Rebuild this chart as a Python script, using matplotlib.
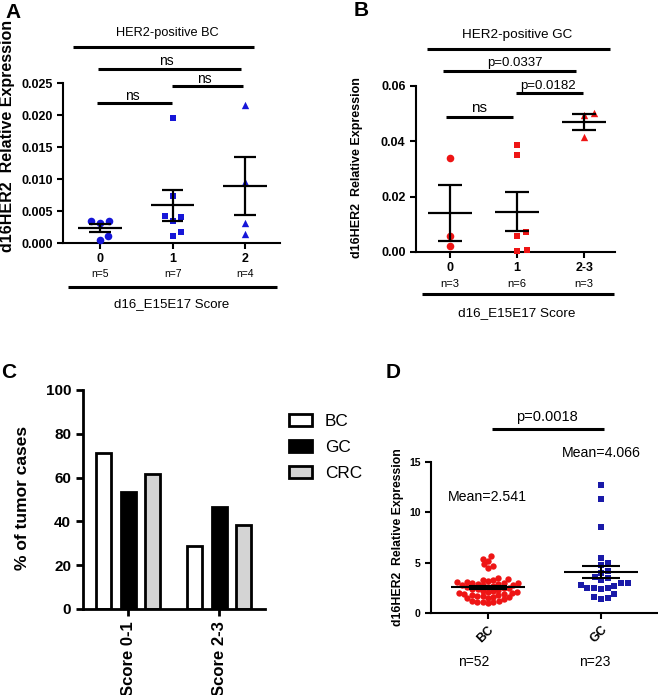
import numpy as np
import matplotlib
matplotlib.use("Agg")
import matplotlib.pyplot as plt
from matplotlib.lines import Line2D
from matplotlib.patches import Rectangle

plt.rcParams['font.family'] = ['Liberation Sans', 'DejaVu Sans']

W, H = 658, 695

# ---- data ----
a_groups = ["0", "1", "2"]
a_n = ["n=5", "n=7", "n=4"]
a_score0 = [0.0034, 0.0031, 0.0035, 0.0011, 0.0004]
a_score1 = [0.0195, 0.0073, 0.0042, 0.0041, 0.0034, 0.0017, 0.0011]
a_score2 = [0.0216, 0.0096, 0.0031, 0.0014]

b_groups = ["0", "1", "2-3"]
b_n = ["n=3", "n=6", "n=3"]
b_score0 = [0.0341, 0.0059, 0.0023]
b_score1 = [0.0387, 0.0350, 0.0072, 0.0057, 0.0004, 0.0006]
b_score23 = [0.0501, 0.0495, 0.0415]

c_scores = ["Score 0-1", "Score 2-3"]
c_tumors = ["BC", "GC", "CRC"]
c_bc = [71.4, 28.6]
c_gc = [53.3, 46.7]
c_crc = [61.5, 38.5]

d_groups = ["BC", "GC"]
d_n = ["n=52", "n=23"]
d_bc = [5.67, 5.37, 5.2, 4.83, 4.67, 4.43,
        0.95, 1.05, 1.1, 1.1, 1.15, 1.2, 1.35, 1.45,
        1.5, 1.55, 1.6, 1.65, 1.7, 1.75, 1.8, 1.85, 1.9, 1.95,
        2.0, 2.05, 2.1, 2.15, 2.2, 2.3, 2.35, 2.4, 2.45, 2.5, 2.55, 2.6,
        2.7, 2.75, 2.8, 2.8, 2.85, 2.9, 2.95, 3.0, 3.0, 3.05, 3.1, 3.15,
        3.25, 3.3, 3.35, 3.45]
d_gc = [12.7, 11.35, 8.5, 5.5, 5.0, 4.8, 4.2, 4.0, 3.6, 3.5, 3.3, 2.95,
        2.8, 2.95, 2.7, 2.5, 2.45, 2.4, 2.5, 1.55, 1.35, 1.45, 1.85]


fig = plt.figure(figsize=(W / 100, H / 100), dpi=100)


def fpos(x, y):
    return x / W, 1 - y / H


def hline(x1, x2, y, lw=2.2):
    fig.add_artist(Line2D([x1 / W, x2 / W], [1 - y / H, 1 - y / H],
                          transform=fig.transFigure, color='black', lw=lw,
                          solid_capstyle='butt'))


def label(x, y, s, size, weight='normal', **kw):
    fig.text(*fpos(x, y), s, fontsize=size, fontweight=weight,
             ha=kw.pop('ha', 'center'), va=kw.pop('va', 'center'), **kw)


def make_axes(left, right, top, bottom):
    ax = fig.add_axes([left / W, 1 - bottom / H, (right - left) / W, (bottom - top) / H])
    ax.spines['top'].set_visible(False)
    ax.spines['right'].set_visible(False)
    ax.spines['left'].set_linewidth(1.5)
    ax.spines['bottom'].set_linewidth(1.5)
    ax.tick_params(width=1.5, length=4)
    return ax


def swarm(ax, xc, vals, diam):
    # simple beeswarm in pixel space
    vals = np.asarray(vals, dtype=float)
    tr = ax.transData
    pts = tr.transform(np.column_stack([np.full(len(vals), xc), vals]))
    ys = pts[:, 1]
    xs = np.zeros(len(vals))
    placed = []
    for i in np.argsort(vals):
        y = ys[i]
        cands = [0.0]
        for px, py in placed:
            dy = abs(y - py)
            if dy < diam:
                dx = np.sqrt(diam ** 2 - dy ** 2)
                cands += [px + dx, px - dx]
        cands.sort(key=abs)
        for c in cands:
            if all((c - px) ** 2 + (y - py) ** 2 >= diam ** 2 - 1e-6 for px, py in placed):
                xs[i] = c
                break
        placed.append((xs[i], y))
    x0 = pts[0, 0]
    return tr.inverted().transform(np.column_stack([x0 + xs, ys]))[:, 0]


def mean_sem(ax, xc, vals, mw, cw, lw=1.6):
    v = np.asarray(vals)
    m = v.mean()
    sem = v.std(ddof=1) / np.sqrt(len(v))
    ax.hlines(m, xc - mw / 2, xc + mw / 2, color='black', lw=lw, zorder=4)
    ax.vlines(xc, m - sem, m + sem, color='black', lw=lw, zorder=4)
    ax.hlines([m - sem, m + sem], xc - cw / 2, xc + cw / 2, color='black', lw=lw, zorder=4)


# ---------------- A ----------------
axA = make_axes(63, 280, 83, 243)
axA.set_xlim(-0.51, 2.48)
axA.set_ylim(0, 0.025)
axA.set_yticks(np.arange(0, 0.0251, 0.005))
axA.set_yticklabels(["%.3f" % t for t in np.arange(0, 0.0251, 0.005)])
axA.set_xticks(range(3))
axA.set_xticklabels(a_groups)
for t in axA.get_yticklabels() + axA.get_xticklabels():
    t.set_fontweight('bold')
    t.set_fontsize(9)
blueA = '#1616d8'
for i, (vals, mk, s) in enumerate([(a_score0, 'o', 30), (a_score1, 's', 24), (a_score2, '^', 28)]):
    xs = swarm(axA, i, vals, 9.5)
    axA.scatter(xs, vals, marker=mk, s=s, color=blueA, zorder=3, linewidths=0, clip_on=False)
    mean_sem(axA, i, vals, 0.6, 0.3)
axA.set_ylabel("d16HER2  Relative Expression", fontsize=11.5, fontweight='bold')
axA.yaxis.set_label_coords(-0.221, 0.669)

label(13, 12, "A", 15, 'bold')
label(167, 33, "HER2-positive BC", 9.2)
hline(73, 254, 47)
label(166, 61, "ns", 10)
hline(98, 241, 69)
label(204, 79, "ns", 10)
hline(172, 243, 86)
label(132, 96, "ns", 10)
hline(97, 172, 103)
for x, s in zip([100, 173, 245], a_n):
    label(x, 274, s, 7.5)
hline(68, 277, 287)
label(172, 304, "d16_E15E17 Score", 9.5)

# ---------------- B ----------------
axB = make_axes(416, 615, 86, 252)
axB.set_xlim(-0.507, 2.46)
axB.set_ylim(0, 0.06)
axB.set_yticks([0, 0.02, 0.04, 0.06])
axB.set_yticklabels(["0.00", "0.02", "0.04", "0.06"])
axB.set_xticks(range(3))
axB.set_xticklabels(b_groups)
for t in axB.get_yticklabels() + axB.get_xticklabels():
    t.set_fontweight('bold')
    t.set_fontsize(9)
red = '#ee1515'
for i, (vals, mk, s) in enumerate([(b_score0, 'o', 30), (b_score1, 's', 24), (b_score23, '^', 28)]):
    xs = swarm(axB, i, vals, 9.5)
    axB.scatter(xs, vals, marker=mk, s=s, color=red, zorder=3, linewidths=0, clip_on=False)
    mean_sem(axB, i, vals, 0.65, 0.35)
axB.set_ylabel("d16HER2  Relative Expression", fontsize=9, fontweight='bold')
axB.yaxis.set_label_coords(-0.266, 0.509)

label(361, 11, "B", 15, 'bold')
label(517, 35, "HER2-positive GC", 9.7)
hline(427, 610, 49)
label(515, 63, "p=0.0337", 9.5)
hline(443, 576, 71)
label(548, 86, "p=0.0182", 9.5)
hline(516, 583, 93)
label(479, 108, "ns", 11)
hline(446, 513, 117)
for x, s in zip([450, 517, 584], b_n):
    label(x, 284, s, 8)
hline(422, 614, 294)
label(517, 313, "d16_E15E17 Score", 9.7)

# ---------------- C ----------------
axC = make_axes(83, 265, 390, 609)
axC.set_xlim(-0.495, 1.505)
axC.set_ylim(0, 100)
x = np.arange(len(c_scores))
fills = ['white', 'black', '#d4d4d4']
for k, (vals, fc) in enumerate(zip([c_bc, c_gc, c_crc], fills)):
    axC.bar(x + (k - 1) * 0.269, vals, width=0.165, color=fc, edgecolor='black',
            linewidth=2, zorder=2)
axC.set_yticks(range(0, 101, 20))
axC.set_xticks(x)
axC.set_xticklabels(c_scores, rotation=90, fontsize=12, fontweight='bold', va='top')
for t in axC.get_yticklabels():
    t.set_fontweight('bold')
    t.set_fontsize(11)
axC.spines['left'].set_linewidth(2)
axC.spines['bottom'].set_linewidth(2)
axC.tick_params(width=2, length=5)
axC.set_ylabel("% of tumor cases", fontsize=12.5, fontweight='bold')
axC.yaxis.set_label_coords(-0.291, 0.507)

label(1, 373, "C", 15, 'bold', ha='left')
for k, (name, fc) in enumerate(zip(c_tumors, fills)):
    yc = 420 + 26 * k
    fig.add_artist(Rectangle(fpos(289, yc + 6), 23 / W, 12 / H, transform=fig.transFigure,
                             facecolor=fc, edgecolor='black', lw=2))
    label(325, yc + 1, name, 12.4, ha='left')

# ---------------- D ----------------
axD = make_axes(431, 657, 462, 613)
axD.set_xlim(-0.504, 1.496)
axD.set_ylim(0, 15)
axD.set_yticks([0, 5, 10, 15])
axD.set_xticks([0, 1])
axD.set_xticklabels(d_groups, rotation=45, ha='right', va='top', rotation_mode='anchor')
for t in axD.get_yticklabels():
    t.set_fontweight('bold')
    t.set_fontsize(7.5)
for t in axD.get_xticklabels():
    t.set_fontweight('bold')
    t.set_fontsize(9)
blueD = '#1a1aa8'
xs = swarm(axD, 0, d_bc, 5.4)
axD.scatter(xs, d_bc, marker='o', s=21, color=red, zorder=3, linewidths=0, clip_on=False)
xs = swarm(axD, 1, d_gc, 7.0)
axD.scatter(xs, d_gc, marker='s', s=17, color=blueD, zorder=3, linewidths=0, clip_on=False)
mean_sem(axD, 0, d_bc, 0.65, 0.33, lw=1.5)
mean_sem(axD, 1, d_gc, 0.66, 0.33, lw=1.5)
axD.set_ylabel("d16HER2  Relative Expression", fontsize=8.8, fontweight='bold')
axD.yaxis.set_label_coords(-0.119, 0.5)

label(393, 373, "D", 15, 'bold')
label(547, 417, "p=0.0018", 10.5)
hline(492, 604, 429)
label(601, 453, "Mean=4.066", 10.2)
label(487, 497, "Mean=2.541", 10.2)
label(474, 662, d_n[0], 10)
label(595, 662, d_n[1], 10)

fig.savefig("out.png", dpi=100)
